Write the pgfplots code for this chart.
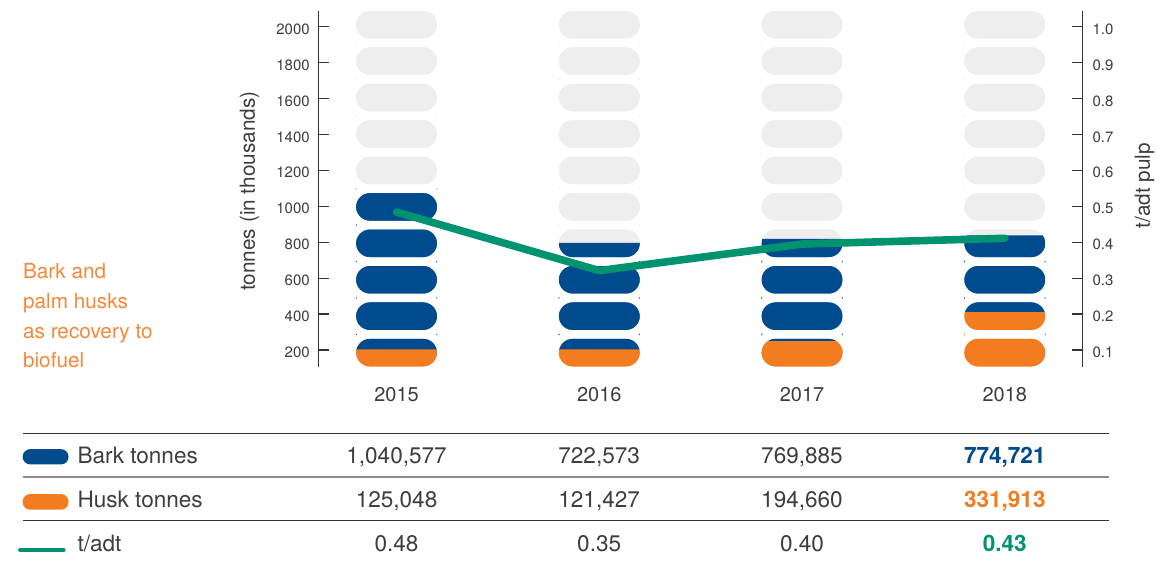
\documentclass[border=0pt]{standalone}
\usepackage{pgfplots}
\pgfplotsset{compat=1.18}
\usepackage{fontspec}
\setmainfont{TeX Gyre Heros}

\definecolor{barkblue}{HTML}{004B8D}
\definecolor{huskorange}{HTML}{F37B20}
\definecolor{tgreen}{HTML}{00936F}
\definecolor{pillgrey}{HTML}{EEEEEE}
\definecolor{txt}{HTML}{3D3D3D}
\definecolor{axgrey}{HTML}{333333}
\definecolor{orangetext}{HTML}{F4893A}

% white stadium-shaped frame that trims the fill columns into pills
\pgfdeclareplotmark{pillmask}{%
  \pgfpathmoveto{\pgfpoint{-13.375pt}{-9.05pt}}%
  \pgfpathlineto{\pgfpoint{13.375pt}{-9.05pt}}%
  \pgfpatharc{-90}{90}{9.05pt}%
  \pgfpathlineto{\pgfpoint{-13.375pt}{9.05pt}}%
  \pgfpatharc{90}{270}{9.05pt}%
  \pgfpathclose
  \pgfusepathqstroke
}

% fill levels of the pictogram columns (axis units)
\pgfplotstableread{
x  grey    bark   husk
0  2088.8  1098   204.3
1  2088.8  797.1  204.3
2  2088.8  818.9  249.4
3  2088.8  837.6  411.7
}\levels

\pgfplotstableread{
x y
0 185.6
0 388.4
0 591.2
0 794.0
0 996.9
0 1199.7
0 1402.5
0 1605.4
0 1808.2
0 2011.0
1 185.6
1 388.4
1 591.2
1 794.0
1 996.9
1 1199.7
1 1402.5
1 1605.4
1 1808.2
1 2011.0
2 185.6
2 388.4
2 591.2
2 794.0
2 996.9
2 1199.7
2 1402.5
2 1605.4
2 1808.2
2 2011.0
3 185.6
3 388.4
3 591.2
3 794.0
3 996.9
3 1199.7
3 1402.5
3 1605.4
3 1808.2
3 2011.0
}\pills

\begin{document}
\begin{tikzpicture}
\path (0pt,0pt) rectangle (580.5pt,281pt);

\begin{axis}[
  at={(159.65pt,97pt)}, anchor=south west,
  scale only axis, width=382.5pt, height=178.65pt,
  xmin=-0.384, xmax=3.382, ymin=103.9, ymax=2089,
  axis y line*=left, axis x line*=bottom,
  x axis line style={draw=none},
  y axis line style={draw=axgrey, line width=0.65pt, -},
  xtick={0,1,2,3}, xticklabels={2015,2016,2017,2018},
  ytick={200,400,600,800,1000,1200,1400,1600,1800,2000},
  tick align=inside, major tick length=5pt,
  major y tick style={draw=axgrey, line width=0.65pt},
  major x tick style={draw=none},
  /pgf/number format/assume math mode=true,
  /pgf/number format/1000 sep={},
  yticklabel style={font=\fontsize{7.5}{9}\selectfont, text=txt, inner sep=0pt, xshift=-4.3pt, yshift=-1.2pt},
  xticklabel style={font=\fontsize{10}{12}\selectfont, text=txt, inner sep=0pt, yshift=-10pt},
]
\addplot[ybar, bar shift=0pt, bar width=40.75pt, fill=pillgrey, draw=none] table[x=x, y=grey] {\levels};
\addplot[ybar, bar shift=0pt, bar width=40.75pt, fill=barkblue, draw=none] table[x=x, y=bark] {\levels};
\addplot[ybar, bar shift=0pt, bar width=40.75pt, fill=huskorange, draw=none] table[x=x, y=husk] {\levels};
\addplot[only marks, draw=white, mark=pillmask, mark options={draw=white, fill=none, line width=4.1pt}] table[x=x, y=y] {\pills};
\end{axis}

\begin{axis}[
  at={(159.65pt,97pt)}, anchor=south west,
  scale only axis, width=382.5pt, height=178.65pt,
  xmin=-0.384, xmax=3.382, ymin=0.05195, ymax=1.0445,
  axis y line*=right, axis x line=none, yticklabel pos=right,
  y axis line style={draw=axgrey, line width=0.65pt, -},
  ytick={0.1,0.2,0.3,0.4,0.5,0.6,0.7,0.8,0.9,1.0},
  tick align=inside, major tick length=5pt,
  major y tick style={draw=axgrey, line width=0.65pt},
  /pgf/number format/assume math mode=true,
  yticklabel style={font=\fontsize{7.5}{9}\selectfont, text=txt, inner sep=0pt, anchor=west, xshift=5pt, yshift=-1.2pt,
    /pgf/number format/.cd, fixed, fixed zerofill, precision=1},
]
\addplot[tgreen, line width=3.8pt, line cap=round] coordinates {(0,0.484) (1,0.321) (2,0.395) (3,0.411)};
\end{axis}

% axis titles
\node[rotate=90, font=\fontsize{10.4}{12}\selectfont, text=txt] at (125pt,185.25pt) {tonnes (in thousands)};
\node[rotate=90, font=\fontsize{10.4}{12}\selectfont, text=txt] at (573.35pt,188pt) {t/adt pulp};

% side caption
\begin{scope}[every node/.style={anchor=base west, inner sep=0pt, font=\fontsize{10.4}{12}\selectfont, text=orangetext}]
\node at (11.35pt,141.35pt) {Bark and};
\node at (11.35pt,126.35pt) {palm husks};
\node at (11.35pt,111.65pt) {as recovery to};
\node at (11.35pt,96.85pt) {biofuel};
\end{scope}

% table rules
\draw[axgrey, line width=0.65pt] (11.35pt,63.85pt) -- (555.5pt,63.85pt);
\draw[black!45, line width=1pt] (11.35pt,41.85pt) -- (555.5pt,41.85pt);
\draw[axgrey, line width=0.65pt] (11.35pt,20.25pt) -- (555.5pt,20.25pt);

% legend keys
\fill[barkblue, rounded corners=3.8pt] (11.35pt,48.35pt) rectangle (34.35pt,56pt);
\fill[huskorange, rounded corners=3.8pt] (11.35pt,25.65pt) rectangle (34.35pt,33.5pt);
\draw[tgreen, line width=2.35pt, line cap=round] (10.25pt,5.5pt) -- (31.75pt,5.5pt);

\begin{scope}[every node/.style={anchor=base, inner sep=0pt, font=\fontsize{11.3}{13}\selectfont, text=txt}]
\node[anchor=base west] at (38.65pt,48.85pt) {Bark tonnes};
\node[anchor=base west] at (38.65pt,26.85pt) {Husk tonnes};
\node[anchor=base west] at (38.65pt,4.65pt) {t/adt};
\node at (198.65pt,48.85pt) {1,040,577};
\node at (300.15pt,48.85pt) {722,573};
\node at (401.75pt,48.85pt) {769,885};
\node[text=barkblue, font=\fontsize{11.3}{13}\selectfont\bfseries] at (503.35pt,48.85pt) {774,721};
\node at (198.65pt,26.85pt) {125,048};
\node at (300.15pt,26.85pt) {121,427};
\node at (401.75pt,26.85pt) {194,660};
\node[text=huskorange, font=\fontsize{11.3}{13}\selectfont\bfseries] at (503.35pt,26.85pt) {331,913};
\node at (198.65pt,4.65pt) {0.48};
\node at (300.15pt,4.65pt) {0.35};
\node at (401.75pt,4.65pt) {0.40};
\node[text=tgreen, font=\fontsize{11.3}{13}\selectfont\bfseries] at (503.35pt,4.65pt) {0.43};
\end{scope}
\end{tikzpicture}
\end{document}
